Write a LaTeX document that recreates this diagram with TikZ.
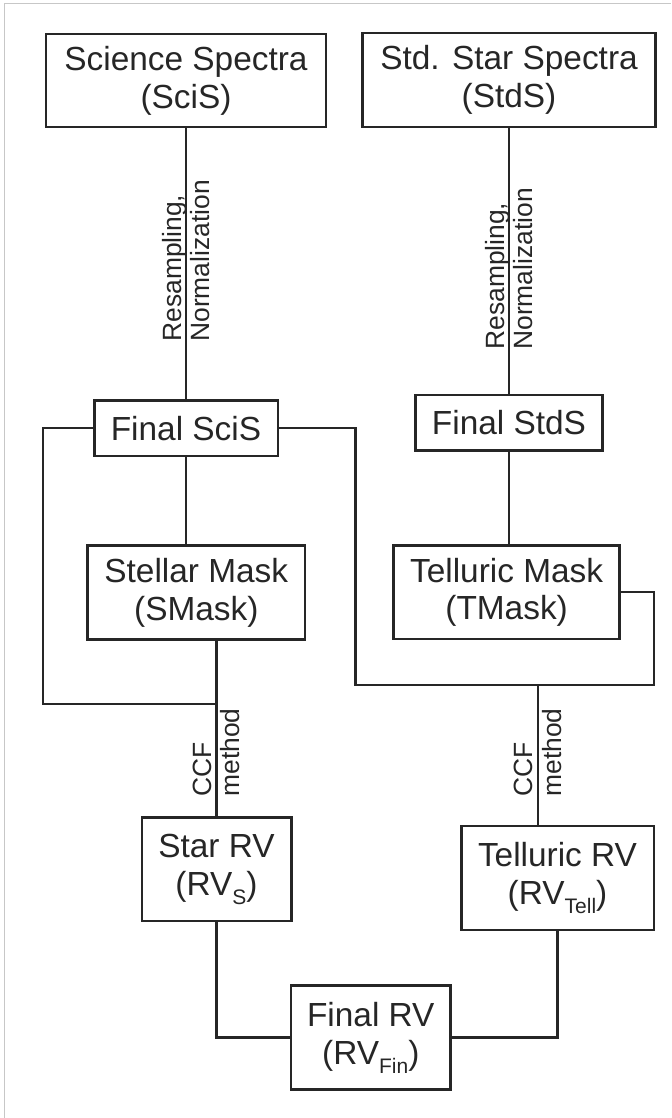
\documentclass[tikz,border=0pt]{standalone}
\usepackage{fontspec}
\setmainfont{Liberation Sans}
\newcommand{\lowsub}[1]{\raisebox{-4.5pt}{\fontsize{10.5}{10.5}\selectfont #1}}

\begin{document}
\begin{tikzpicture}[x=0.5pt,y=-0.5pt,
  box/.style={draw=black!85, line width=1.3pt, align=center, inner sep=0pt, text=black!85,
    font=\fontsize{16.7}{18.9}\selectfont},
  conn/.style={draw=black!85, line width=1.1pt},
  vlabel/.style={rotate=90, anchor=west, align=left, inner sep=0pt, text=black!85,
    font=\fontsize{13.2}{14.2}\selectfont}]
\useasboundingbox (0,0) rectangle (671,1118);
\draw[black!22, line width=0.6pt] (4.3,1118) -- (4.3,3.3) -- (671,3.3);
\node[box, minimum width=140pt, minimum height=46.5pt] (sci) at (186,80.5) {Science Spectra\\(SciS)};
\node[box, minimum width=146.5pt, minimum height=47pt] (std) at (509,80) {Std. Star Spectra\\(StdS)};
\node[box, minimum width=91.8pt, minimum height=27.6pt] (fsci) at (186,428.3) {Final SciS};
\node[box, minimum width=93.3pt, minimum height=27.8pt] (fstd) at (509,422.8) {Final StdS};
\node[box, minimum width=108.7pt, minimum height=46.8pt] (smask) at (196.3,592.5) {Stellar Mask\\(SMask)};
\node[box, minimum width=113pt, minimum height=46.7pt] (tmask) at (506.6,592.3) {Telluric Mask\\(TMask)};
\node[box, minimum width=74.7pt, minimum height=51.8pt] (srv) at (216.5,869.2) {Star RV\\(RV\lowsub{S})};
\node[box, minimum width=96.3pt, minimum height=52pt] (trv) at (557.5,878) {Telluric RV\\(RV\lowsub{Tell})};
\node[box, minimum width=79.8pt, minimum height=51.8pt] (frv) at (370.8,1037.5) {Final RV\\(RV\lowsub{Fin})};
\coordinate (sjoin) at (216.5,704.3);
\coordinate (tjoin) at (538,685);
\draw[conn] (sci.south) -- (fsci.north);
\draw[conn] (std.south) -- (fstd.north);
\draw[conn] (fsci.south) -- (fsci.south |- smask.north);
\draw[conn] (fstd.south) -- (fstd.south |- tmask.north);
\draw[conn] (fsci.west) -| (42.8,704.3) -- (sjoin);
\draw[conn] (srv.north |- smask.south) -- (srv.north);
\draw[conn] (fsci.east) -| (355.5,685) -- (tjoin) -- (653.8,685) |- (tmask.east);
\draw[conn] (tjoin) -- (tjoin |- trv.north);
\draw[conn] (srv.south) |- (frv.west);
\draw[conn] (trv.south) |- (frv.east);
\node[vlabel] (rsci) at (186,342) {Resampling,\\Normalization};
\node[vlabel] (rstd) at (509,350) {Resampling,\\Normalization};
\node[vlabel] (ccfs) at (216.5,797) {CCF\\method};
\node[vlabel] (ccft) at (538,797) {CCF\\method};
\end{tikzpicture}
\end{document}
